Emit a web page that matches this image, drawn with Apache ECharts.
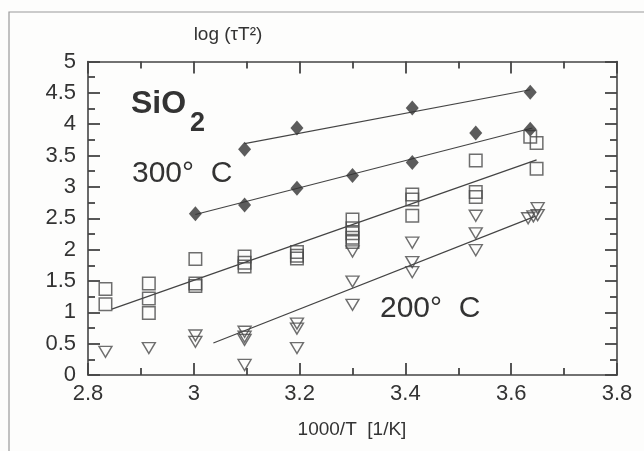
<!DOCTYPE html>
<html>
<head>
<meta charset="utf-8">
<script src="https://cdn.jsdelivr.net/npm/echarts@6/dist/echarts.min.js"></script>
<style>
  html, body { margin: 0; padding: 0; background: #fdfdfc; }
  #chart { width: 644px; height: 451px; }
</style>
</head>
<body>
<div id="chart"></div>
<script>
// Axis ranges and tick labels
const xMin = 2.8, xMax = 3.8, xStep = 0.2;
const yMin = 0, yMax = 5, yStep = 0.5;

// Relaxation data: log(tau*T^2) versus 1000/T
const diamondsUpper = [[3.096, 3.60], [3.195, 3.94], [3.413, 4.26], [3.636, 4.51]];
const diamondsLower = [[3.003, 2.57], [3.096, 2.71], [3.195, 2.98], [3.300, 3.18],
                       [3.413, 3.39], [3.533, 3.86], [3.636, 3.92]];
const squares = [
  [2.833, 1.37], [2.833, 1.13],
  [2.915, 1.46], [2.915, 1.22], [2.915, 0.99],
  [3.003, 1.85], [3.003, 1.46], [3.003, 1.42],
  [3.096, 1.89], [3.096, 1.79], [3.096, 1.73],
  [3.195, 1.96], [3.195, 1.90], [3.195, 1.86],
  [3.300, 2.48], [3.300, 2.34], [3.300, 2.26], [3.300, 2.19], [3.300, 2.12],
  [3.413, 2.88], [3.413, 2.80], [3.413, 2.54],
  [3.533, 3.42], [3.533, 2.92], [3.533, 2.84],
  [3.636, 3.80], [3.648, 3.70], [3.648, 3.29]
];
const triangles = [
  [2.833, 0.37], [2.915, 0.43],
  [3.003, 0.63], [3.003, 0.53],
  [3.096, 0.69], [3.096, 0.61], [3.096, 0.56], [3.096, 0.16],
  [3.195, 0.82], [3.195, 0.74], [3.195, 0.43],
  [3.300, 1.97], [3.300, 1.49], [3.300, 1.12],
  [3.413, 2.11], [3.413, 1.80], [3.413, 1.64],
  [3.533, 2.54], [3.533, 2.26], [3.533, 1.99],
  [3.632, 2.50], [3.642, 2.53], [3.650, 2.55], [3.650, 2.66]
];

// Straight-line fits through each group
const fitUpper = [[3.096, 3.69], [3.636, 4.55]];
const fitLower = [[3.003, 2.56], [3.640, 3.94]];
const fitSquares = [[2.845, 1.05], [3.648, 3.43]];
const fitTriangles = [[3.037, 0.51], [3.645, 2.53]];

const FONT = '"Liberation Sans", Arial, Helvetica, sans-serif';
const INK = '#333';
const AXIS = '#444';

const chart = echarts.init(document.getElementById('chart'), null, { renderer: 'canvas' });

// Box axes: ticks point into the plot on all four sides
function frameAxis(position, min, max, interval, showLabels, labelMargin) {
  return {
    type: 'value', position, min, max, interval,
    axisLine: { show: true, onZero: false, lineStyle: { color: AXIS, width: 1.6 } },
    axisTick: { show: true, inside: true, length: 12, lineStyle: { color: AXIS, width: 1.8 } },
    minorTick: { show: true, splitNumber: 2, length: 7, lineStyle: { color: AXIS, width: 1.8 } },
    splitLine: { show: false },
    axisLabel: showLabels
      ? { show: true, color: INK, fontSize: 22, fontFamily: FONT, margin: labelMargin }
      : { show: false }
  };
}

const fitLine = (data) => ({
  type: 'line', data, showSymbol: false, silent: true,
  lineStyle: { color: '#444', width: 1.2 }, z: 1
});

chart.setOption({
  backgroundColor: '#fdfdfc',
  animation: false,
  grid: { left: 88, right: 27, top: 61.5, bottom: 76 },
  xAxis: [
    frameAxis('bottom', xMin, xMax, xStep, true, 8),
    frameAxis('top', xMin, xMax, xStep, false)
  ],
  yAxis: [
    frameAxis('left', yMin, yMax, yStep, true, 12),
    frameAxis('right', yMin, yMax, yStep, false)
  ],
  series: [
    fitLine(fitUpper),
    fitLine(fitLower),
    fitLine(fitSquares),
    fitLine(fitTriangles),
    {
      type: 'scatter', data: diamondsUpper, symbol: 'diamond', symbolSize: [13, 15],
      itemStyle: { color: '#333' }, z: 3
    },
    {
      type: 'scatter', data: diamondsLower, symbol: 'diamond', symbolSize: [13, 15],
      itemStyle: { color: '#333' }, z: 3
    },
    {
      type: 'scatter', data: squares, symbol: 'rect', symbolSize: 12.5,
      itemStyle: { color: 'rgba(0,0,0,0)', borderColor: '#4a4a4a', borderWidth: 1.5 }, z: 2
    },
    {
      type: 'scatter', data: triangles, symbol: 'triangle', symbolRotate: 180, symbolSize: [13, 11],
      itemStyle: { color: 'rgba(0,0,0,0)', borderColor: '#4a4a4a', borderWidth: 1.4 }, z: 2
    }
  ],
  graphic: [
    // outer frame of the figure panel
    { type: 'polyline', shape: { points: [[9, 451], [9, 12], [644, 12]] },
      style: { stroke: '#9a9a9a', lineWidth: 1.2, fill: null }, silent: true },
    { type: 'text', x: 228, y: 35,
      style: { text: 'log (τT²)', font: '19px ' + FONT, fill: INK, textAlign: 'center', textVerticalAlign: 'middle' } },
    { type: 'text', x: 352, y: 430,
      style: { text: '1000/T  [1/K]', font: '19px ' + FONT, fill: INK, textAlign: 'center', textVerticalAlign: 'middle' } },
    { type: 'text', x: 131, y: 104,
      style: { text: 'SiO', font: 'bold 32px ' + FONT, fill: INK, textAlign: 'left', textVerticalAlign: 'middle' } },
    { type: 'text', x: 190, y: 124,
      style: { text: '2', font: 'bold 27px ' + FONT, fill: INK, textAlign: 'left', textVerticalAlign: 'middle' } },
    { type: 'text', x: 132, y: 174,
      style: { text: '300°  C', font: '30px ' + FONT, fill: INK, textAlign: 'left', textVerticalAlign: 'middle' } },
    { type: 'text', x: 380, y: 309,
      style: { text: '200°  C', font: '30px ' + FONT, fill: INK, textAlign: 'left', textVerticalAlign: 'middle' } }
  ]
});
</script>
</body>
</html>
